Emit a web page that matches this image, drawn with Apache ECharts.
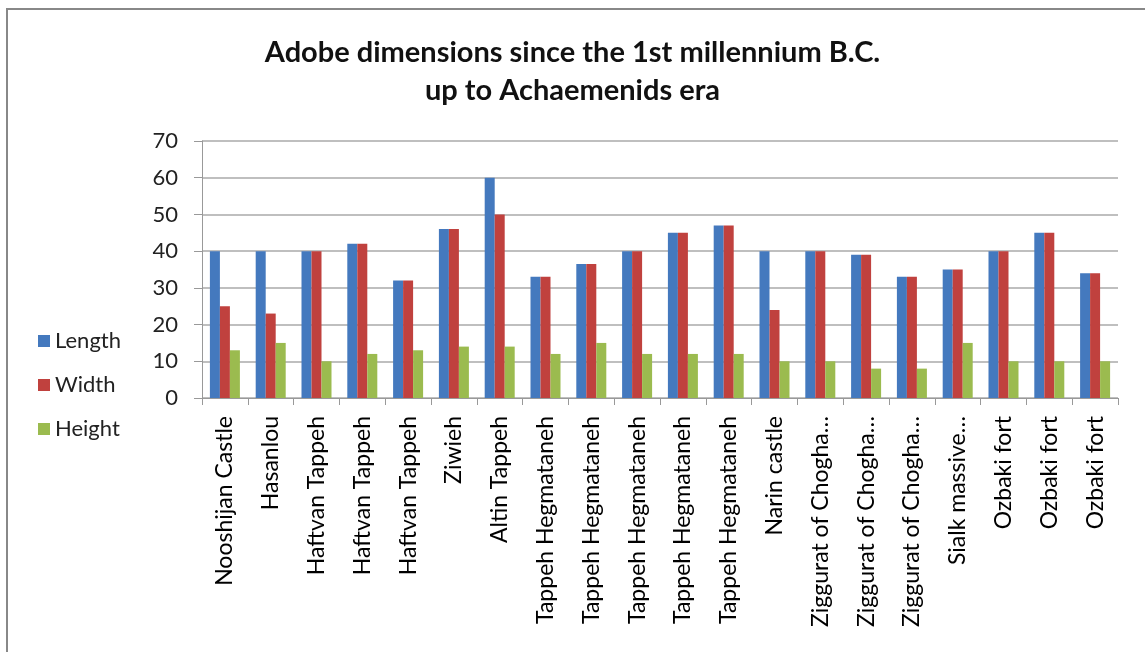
<!DOCTYPE html>
<html>
<head>
<meta charset="utf-8">
<script src="https://cdn.jsdelivr.net/npm/echarts@6/dist/echarts.min.js"></script>
<style>
html, body { margin: 0; padding: 0; background: #fff; }
#chart { width: 1145px; height: 652px; }
</style>
</head>
<body>
<div id="chart"></div>
<script>
var sites = [
    'Nooshijan Castle', 'Hasanlou', 'Haftvan Tappeh', 'Haftvan Tappeh', 'Haftvan Tappeh',
    'Ziwieh', 'Altin Tappeh', 'Tappeh Hegmataneh', 'Tappeh Hegmataneh', 'Tappeh Hegmataneh',
    'Tappeh Hegmataneh', 'Tappeh Hegmataneh', 'Narin castle', 'Ziggurat of Chogha…',
    'Ziggurat of Chogha…', 'Ziggurat of Chogha…', 'Sialk massive…', 'Ozbaki fort',
    'Ozbaki fort', 'Ozbaki fort'
];
var lengthVals = [40, 40, 40, 42, 32, 46, 60, 33, 36.5, 40, 45, 47, 40, 40, 39, 33, 35, 40, 45, 34];
var widthVals  = [25, 23, 40, 42, 32, 46, 50, 33, 36.5, 40, 45, 47, 24, 40, 39, 33, 35, 40, 45, 34];
var heightVals = [13, 15, 10, 12, 13, 14, 14, 12, 15, 12, 12, 12, 10, 10, 8, 8, 15, 10, 10, 10];

var font = 'Lato, "Liberation Sans", sans-serif';

var myChart = echarts.init(document.getElementById('chart'));
var option = {
    animation: false,
    title: {
        text: 'Adobe dimensions since the 1st millennium B.C.\nup to Achaemenids era',
        left: 'center',
        top: 29,
        textStyle: {
            fontFamily: font,
            fontSize: 29,
            fontWeight: 'bold',
            color: '#111',
            lineHeight: 38
        }
    },
    legend: {
        orient: 'vertical',
        left: 33,
        top: 325,
        itemGap: 22,
        itemWidth: 12,
        itemHeight: 12,
        icon: 'rect',
        textStyle: { fontFamily: font, fontSize: 22, color: '#222' },
        data: ['Length', 'Width', 'Height']
    },
    grid: {
        left: 202,
        right: 27,
        top: 141,
        bottom: 254
    },
    xAxis: {
        type: 'category',
        data: sites,
        axisLine: { lineStyle: { color: '#999' } },
        axisTick: { show: true, length: 7, lineStyle: { color: '#999' } },
        axisLabel: {
            rotate: 90,
            interval: 0,
            margin: 18,
            fontFamily: font,
            fontSize: 23,
            color: '#000'
        }
    },
    yAxis: {
        type: 'value',
        min: 0,
        max: 70,
        interval: 10,
        axisLine: { show: true, lineStyle: { color: '#999' } },
        axisTick: { show: true, length: 8, lineStyle: { color: '#999' } },
        axisLabel: { fontFamily: font, fontSize: 22, color: '#222', margin: 24 },
        splitLine: { lineStyle: { color: '#aaa', width: 1.5 } }
    },
    series: [
        { name: 'Length', type: 'bar', data: lengthVals, barWidth: 10, barGap: '0%', itemStyle: { color: '#4479be' } },
        { name: 'Width', type: 'bar', data: widthVals, barWidth: 10, barGap: '0%', itemStyle: { color: '#c0413e' } },
        { name: 'Height', type: 'bar', data: heightVals, barWidth: 10, barGap: '0%', itemStyle: { color: '#9bbb4f' } }
    ],
    graphic: [
        { type: 'line', shape: { x1: 7, y1: 9, x2: 7, y2: 652 }, style: { stroke: '#888', lineWidth: 2 } },
        { type: 'line', shape: { x1: 6, y1: 9, x2: 1145, y2: 9 }, style: { stroke: '#888', lineWidth: 2 } }
    ]
};
myChart.setOption(option);
</script>
</body>
</html>
